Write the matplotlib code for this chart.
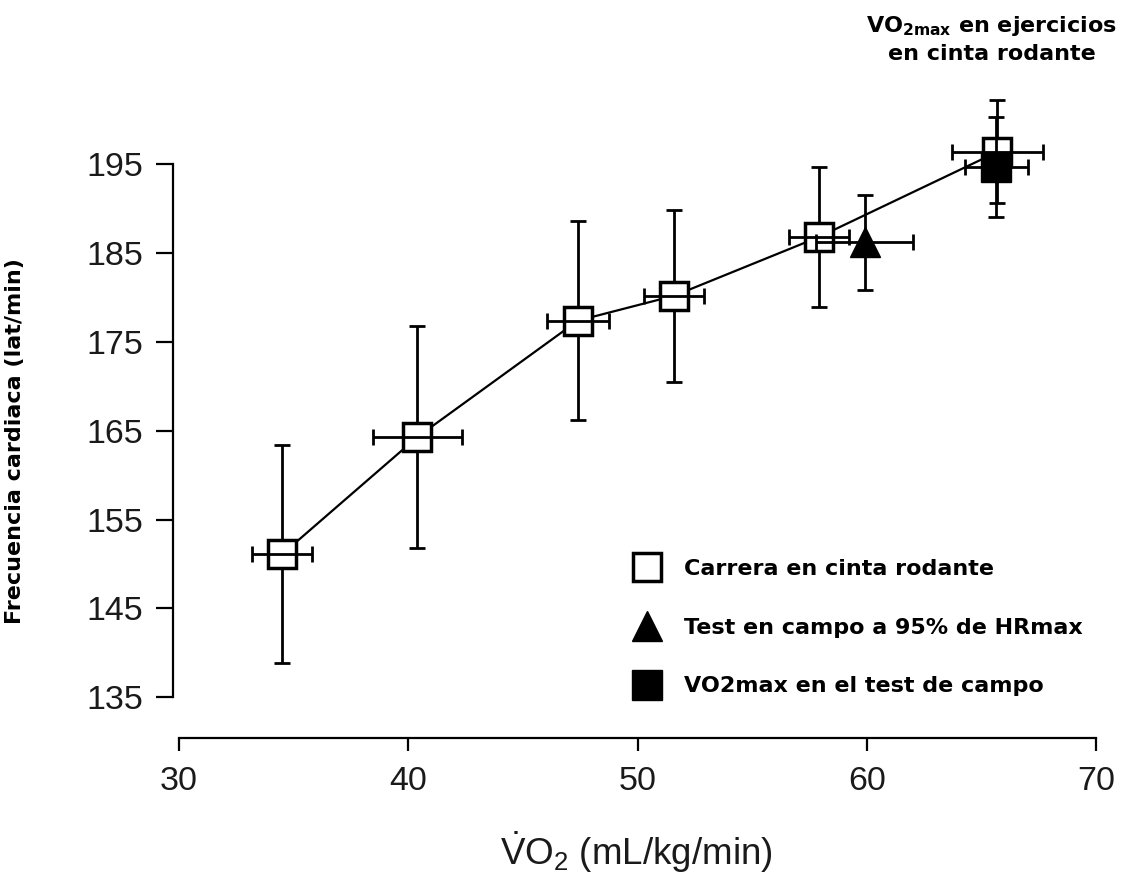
import numpy as np
import matplotlib
matplotlib.use("Agg")
import matplotlib.pyplot as plt
from matplotlib.lines import Line2D

plt.rcParams['font.family'] = ['Liberation Sans', 'DejaVu Sans']
plt.rcParams['mathtext.fontset'] = 'custom'
plt.rcParams['mathtext.rm'] = 'Liberation Sans'
plt.rcParams['mathtext.it'] = 'Liberation Sans:italic'
plt.rcParams['mathtext.bf'] = 'DejaVu Sans:bold'

# carrera en cinta rodante (treadmill)
vo2_cinta = [34.5, 40.4, 47.4, 51.6, 57.9, 65.7]
hr_cinta = [151.1, 164.3, 177.4, 180.2, 186.8, 196.4]
hr_err_cinta = [12.3, 12.5, 11.2, 9.7, 7.9, 5.8]
vo2_err_cinta = [1.32, 1.95, 1.34, 1.31, 1.31, 1.98]

# test de campo a 95% HRmax
vo2_campo95 = [59.9]
hr_campo95 = [186.2]
hr_err_campo95 = [5.3]
vo2_err_campo95 = [2.1]

# VO2max en el test de campo
vo2_campomax = [65.65]
hr_campomax = [194.7]
hr_err_campomax = [5.6]
vo2_err_campomax = [1.37]

labels = ["Carrera en cinta rodante", "Test en campo a 95% de HRmax",
          "VO2max en el test de campo"]
xticks = [30, 40, 50, 60, 70]
yticks = [135, 145, 155, 165, 175, 185, 195]

fig = plt.figure(figsize=(11.31, 8.9), dpi=100)
ax = fig.add_axes([0.1583, 0.1708, 0.8108, 0.7344])

lw = 2.0
cap = 5.8
ms = 19.5
bold_font = {'family': 'DejaVu Sans', 'weight': 'bold', 'size': 16}

# line joining the treadmill points
ax.plot(vo2_cinta, hr_cinta, color='black', lw=1.6, zorder=1)
# vertical bars under the markers, horizontal ones on top
ax.errorbar(vo2_cinta, hr_cinta, yerr=hr_err_cinta, fmt='none', ecolor='black',
            elinewidth=lw, capsize=cap, capthick=lw, zorder=2)
ax.plot(vo2_cinta, hr_cinta, 's', ms=ms, mfc='white', mec='black', mew=2.5, zorder=3)
ax.errorbar(vo2_cinta, hr_cinta, xerr=vo2_err_cinta, fmt='none', ecolor='black',
            elinewidth=lw, capsize=cap, capthick=lw, zorder=4)

ax.errorbar(vo2_campo95, hr_campo95, xerr=vo2_err_campo95, yerr=hr_err_campo95,
            fmt='^', ms=22, mfc='black', mec='black', ecolor='black',
            elinewidth=lw, capsize=cap, capthick=lw, zorder=5)
ax.errorbar(vo2_campomax, hr_campomax, xerr=vo2_err_campomax, yerr=hr_err_campomax,
            fmt='s', ms=21, mfc='black', mec='black', ecolor='black',
            elinewidth=lw, capsize=cap, capthick=lw, zorder=6)

ax.set_xlim(30, 70)
ax.set_ylim(130.4, 204)
ax.set_xticks(xticks)
ax.set_yticks(yticks)
ax.spines['top'].set_visible(False)
ax.spines['right'].set_visible(False)
ax.spines['left'].set_bounds(135, 195)
ax.spines['left'].set_position(('outward', 4.5))
ax.spines['bottom'].set_bounds(30, 70)
for s in ('left', 'bottom'):
    ax.spines[s].set_linewidth(1.6)
ax.tick_params(axis='y', length=12, width=1.6, pad=9, labelsize=24.5, labelcolor='#1a1a1a')
ax.tick_params(axis='x', length=9, width=1.6, pad=11, labelsize=24.5, labelcolor='#1a1a1a')

ax.set_xlabel(r'$\dot{\mathrm{V}}\mathrm{O}_2$ (mL/kg/min)', fontsize=26.5, color='#1a1a1a')
ax.xaxis.set_label_coords(0.499, -0.14)
ax.set_ylabel("Frecuencia cardiaca (lat/min)", fontsize=16, fontweight='bold',
              family='DejaVu Sans')
ax.yaxis.set_label_coords(-0.168, 0.455)

handles = [
    Line2D([], [], ls='none', marker='s', ms=ms, mfc='white', mec='black', mew=2.5),
    Line2D([], [], ls='none', marker='^', ms=22, mfc='black', mec='black'),
    Line2D([], [], ls='none', marker='s', ms=21, mfc='black', mec='black'),
]
leg = ax.legend(handles, labels, loc='upper left',
                bbox_to_anchor=(631.5 / 1131, 1 - 559 / 890),
                bbox_transform=fig.transFigure, frameon=False, borderpad=0,
                borderaxespad=0, handlelength=1.4, handletextpad=0.97,
                labelspacing=1.74, prop=bold_font)

fig.text(991 / 1131, 1 - 32 / 890, r'VO$_{\mathbf{2max}}$ en ejercicios',
         ha='center', va='baseline', fontdict=bold_font)
fig.text(992 / 1131, 1 - 60 / 890, 'en cinta rodante',
         ha='center', va='baseline', fontdict=bold_font)

fig.savefig('out.png', dpi=100)
